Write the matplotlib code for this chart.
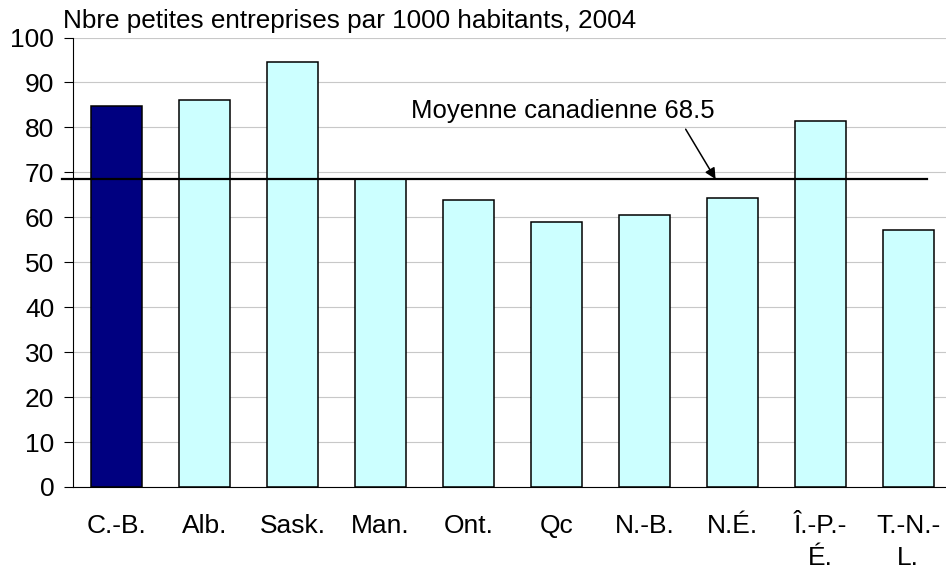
import matplotlib
matplotlib.use('Agg')
import matplotlib.pyplot as plt

provinces = ['C.-B.', 'Alb.', 'Sask.', 'Man.', 'Ont.', 'Qc', 'N.-B.', 'N.É.',
             'Î.-P.-\nÉ.', 'T.-N.-\nL.']
values = [84.8, 86.0, 94.5, 68.6, 63.8, 59.0, 60.6, 64.2, 81.5, 57.1]
moyenne = 68.5

plt.rcParams['font.family'] = ['Liberation Sans', 'DejaVu Sans']

fig = plt.figure(figsize=(9.46, 5.73), dpi=100)
ax = fig.add_axes([73 / 946, 86 / 573, 879 / 946, 449.5 / 573])

colors = ['#000080'] + ['#ccffff'] * (len(values) - 1)
x = list(range(len(values)))
ax.bar(x, values, width=0.58, color=colors, edgecolor='black', linewidth=1.1, zorder=3)

ax.set_xlim(-0.5, 9.5)
ax.set_ylim(0, 100)
ax.set_yticks(range(0, 101, 10))
ax.set_xticks(x)
ax.set_xticklabels(provinces, fontsize=19, linespacing=1.4)
ax.tick_params(axis='y', labelsize=19, length=6.5, width=0.8, pad=7, direction='out')
ax.tick_params(axis='x', length=0, pad=19.5)
ax.grid(axis='y', color='#c8c8c8', linewidth=0.8, zorder=0)

for s in ['top', 'right']:
    ax.spines[s].set_visible(False)
ax.spines['left'].set_linewidth(0.8)
ax.spines['bottom'].set_linewidth(0.8)
ax.spines['bottom'].set_zorder(4)

# moyenne canadienne
ax.plot([-0.625, 9.215], [moyenne, moyenne], color='black', linewidth=1.6,
        clip_on=False, zorder=5)
ax.text(3.345, 82, 'Moyenne canadienne %.1f' % moyenne, fontsize=18.5,
        va='baseline', ha='left', zorder=6)
ax.annotate('', xy=(6.81, moyenne), xytext=(6.47, 79.6),
            arrowprops=dict(arrowstyle='-|>', color='black', lw=1.1,
                            mutation_scale=16, shrinkA=0, shrinkB=0), zorder=6)

fig.text(63 / 946, (573 - 28) / 573, 'Nbre petites entreprises par 1000 habitants, 2004',
         fontsize=18.8, va='baseline', ha='left')

fig.savefig('out.png', dpi=100)
